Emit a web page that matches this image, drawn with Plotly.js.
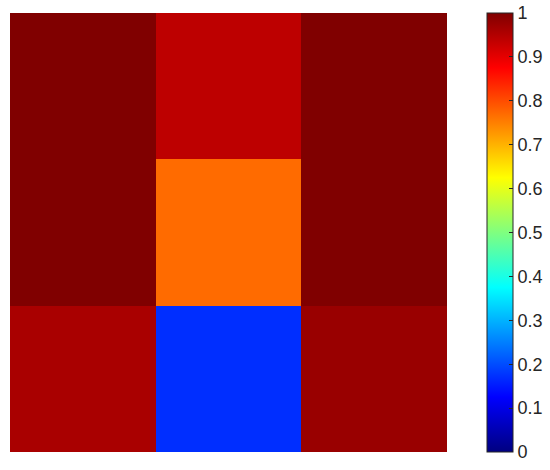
<!DOCTYPE html>
<html>
<head>
<meta charset="utf-8">
<script src="https://cdn.plot.ly/plotly-3.0.1.min.js"></script>
<style>
  body { margin: 0; background: #fff; }
  #heat { width: 550px; height: 470px; }
</style>
</head>
<body>
<div id="heat"></div>
<script>
// Cell values (top row first)
var topRow = [1.0, 0.94, 1.0];
var midRow = [1.0, 0.77, 1.0];
var botRow = [0.96, 0.17, 0.975];

var colTicks = [1, 2, 3];
var rowTicks = [1, 2, 3];
var cbarTicks = [0, 0.1, 0.2, 0.3, 0.4, 0.5, 0.6, 0.7, 0.8, 0.9, 1];

// MATLAB style jet colormap
var jet = [
  [0, 'rgb(0,0,128)'],
  [0.125, 'rgb(0,0,255)'],
  [0.375, 'rgb(0,255,255)'],
  [0.625, 'rgb(255,255,0)'],
  [0.875, 'rgb(255,0,0)'],
  [1, 'rgb(128,0,0)']
];

var trace = {
  type: 'heatmap',
  x: colTicks,
  y: rowTicks,
  z: [topRow, midRow, botRow],
  zmin: 0,
  zmax: 1,
  colorscale: jet,
  hoverinfo: 'z',
  colorbar: {
    xref: 'container',
    x: 487 / 550,
    xanchor: 'left',
    y: 0.5,
    yanchor: 'middle',
    len: 1,
    lenmode: 'fraction',
    thickness: 26,
    thicknessmode: 'pixels',
    xpad: 0,
    ypad: 0,
    outlinewidth: 1,
    outlinecolor: '#262626',
    tickvals: cbarTicks,
    ticktext: cbarTicks.map(String),
    ticks: 'inside',
    ticklen: 4,
    tickcolor: '#262626',
    tickfont: {family: 'Liberation Sans, Arial, sans-serif', size: 18, color: '#262626'}
  }
};

var layout = {
  width: 550,
  height: 470,
  margin: {l: 10, r: 103, t: 13, b: 18},
  paper_bgcolor: '#fff',
  plot_bgcolor: '#fff',
  xaxis: {showticklabels: false, showgrid: false, zeroline: false, ticks: '', showline: false},
  yaxis: {showticklabels: false, showgrid: false, zeroline: false, ticks: '', showline: false, autorange: 'reversed'}
};

Plotly.newPlot('heat', [trace], layout, {displayModeBar: false, staticPlot: true});
</script>
</body>
</html>
